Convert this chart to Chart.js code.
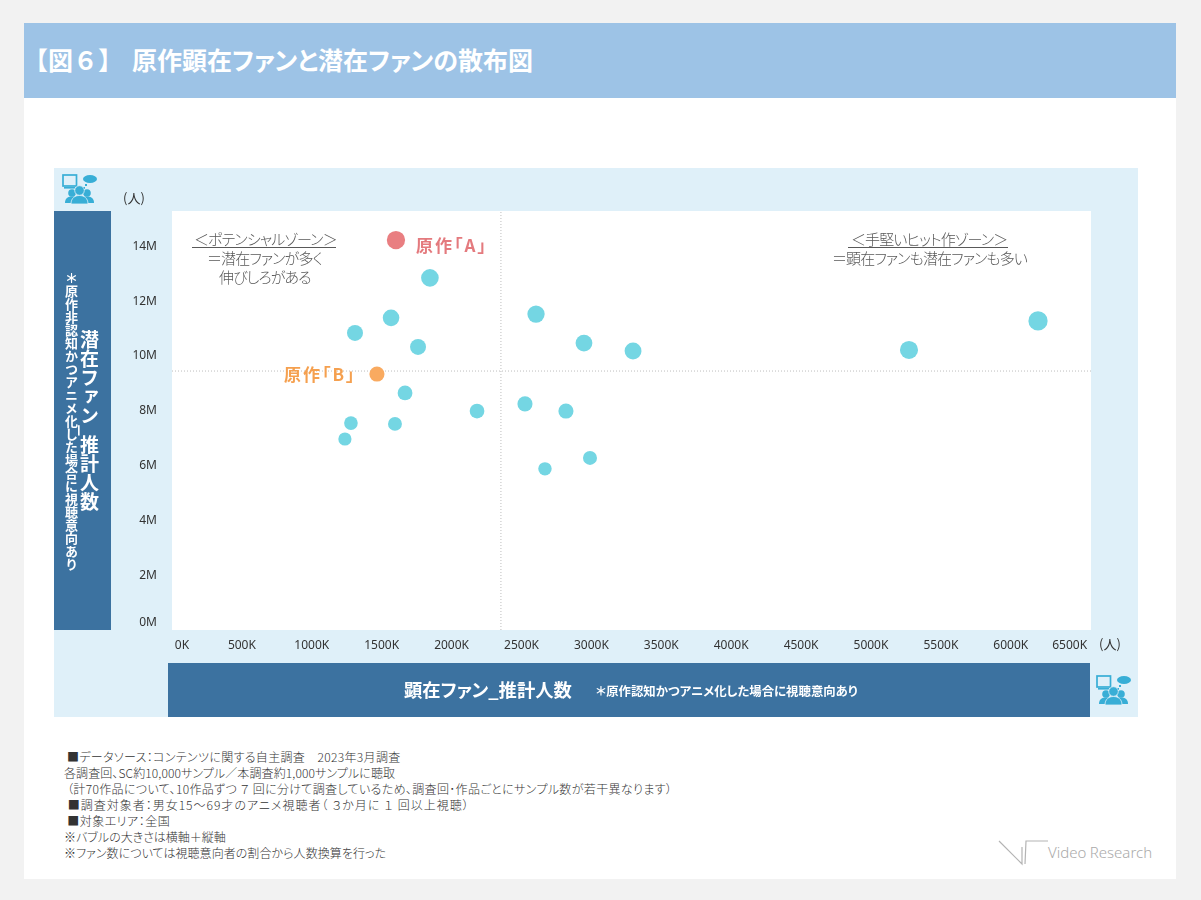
<!DOCTYPE html>
<html lang="ja"><head><meta charset="utf-8">
<style>
html,body{margin:0;padding:0;background:#f2f2f2;width:1201px;height:900px;overflow:hidden}
body{font-family:"Noto Sans CJK JP","Noto Sans",sans-serif;font-feature-settings:"palt"}
.a{position:absolute;white-space:pre;line-height:1}
#page{position:absolute;left:24px;top:23px;width:1152px;height:856px;background:#fff}
#title{position:absolute;left:24px;top:23px;width:1152px;height:75px;background:#9dc3e6}
.tt{top:47px;font-size:25px;font-weight:700;color:#fff}
#panel{position:absolute;left:54px;top:168px;width:1084px;height:549px;background:#dff0f9}
#ybar{position:absolute;left:54px;top:211px;width:57px;height:419px;background:#3c72a0}
#xbar{position:absolute;left:168px;top:663px;width:922px;height:54px;background:#3c72a0}
canvas{position:absolute;left:54px;top:168px}
.v{writing-mode:vertical-rl;color:#fff;font-weight:700;font-feature-settings:normal}
.zone{color:#595959;font-weight:300;font-size:15px;letter-spacing:-.9px}
.rule{position:absolute;height:1px;background:#595959}
#notes{left:64px;top:749px;font-size:12px;line-height:16px;color:#333;font-weight:300}
#notes span{display:block}
.unit{font-size:13px;color:#333;font-feature-settings:normal}
.work{font-size:17px;font-weight:700;letter-spacing:2px}
</style></head><body>
<div id="page"></div>
<div id="title"></div>
<div class="a tt" style="left:23px;font-feature-settings:normal">【図６】</div>
<div class="a tt" style="left:132px">原作顕在ファンと潜在ファンの散布図</div>
<div id="panel"></div>
<div id="ybar"></div>
<div id="xbar"></div>
<canvas id="c" width="1084" height="549"></canvas>

<div class="a v" style="left:80px;top:330px;font-size:19px">潜在ファン_推計人数</div>
<div class="a v" style="left:65px;top:272px;font-size:13px">＊原作非認知かつアニメ化した場合に視聴意向あり</div>
<div class="a" style="left:404px;top:680px;font-size:18.3px;font-weight:700;color:#fff">顕在ファン_推計人数</div>
<div class="a" style="left:596px;top:685px;font-size:12.4px;font-weight:700;color:#fff">＊原作認知かつアニメ化した場合に視聴意向あり</div>
<div class="a unit" style="left:123px;top:191px">(人)</div>
<div class="a unit" style="left:1099px;top:637px">(人)</div>

<div class="a zone" style="left:194px;top:231px">＜ポテンシャルゾーン＞</div>
<div class="rule" style="left:192px;top:247px;width:144px"></div>
<div class="a zone" style="left:207px;top:250px">＝潜在ファンが多く</div>
<div class="a zone" style="left:219px;top:269px">伸びしろがある</div>
<div class="a zone" style="left:851px;top:231px">＜手堅いヒット作ゾーン＞</div>
<div class="rule" style="left:848px;top:247px;width:160px"></div>
<div class="a zone" style="left:832px;top:250px">＝顕在ファンも潜在ファンも多い</div>

<div class="a work" style="left:416px;top:236px;color:#e47a7e">原作「A」</div>
<div class="a work" style="left:284px;top:365px;color:#f5a04f">原作「B」</div>

<div class="a" id="notes"><span style="letter-spacing:.33px"> ■データソース：コンテンツに関する自主調査　2023年3月調査</span><span style="letter-spacing:.1px">各調査回、SC約10,000サンプル／本調査約1,000サンプルに聴取</span><span style="letter-spacing:.35px"> （計70作品について、10作品ずつ ７ 回に分けて調査しているため、調査回･作品ごとにサンプル数が若干異なります）</span><span style="letter-spacing:1px"> ■調査対象者：男女15～69才のアニメ視聴者（ ３か月に １ 回以上視聴）</span><span style="letter-spacing:.5px"> ■対象エリア：全国</span><span>※バブルの大きさは横軸＋縦軸</span><span style="letter-spacing:.05px">※ファン数については視聴意向者の割合から人数換算を行った</span></div>

<svg width="0" height="0" style="position:absolute"><defs>
<g id="ico" fill="#38aed6">
  <rect x="1" y="1" width="13.5" height="11" fill="#dff0f9" stroke="#38aed6" stroke-width="1.7"/>
  <rect x="2" y="13" width="11" height="1.6"/>
  <ellipse cx="28" cy="5" rx="7" ry="4"/>
  <rect x="23" y="10" width="2" height="2"/><rect x="21" y="13" width="2" height="2"/>
  <circle cx="10" cy="19" r="3.8"/><path d="M3 29c0-5 3-6.500 7-6.500s7 1.500 7 6.500z"/>
  <circle cx="25" cy="19" r="3.800"/><path d="M18 29c0-5 3-6.500 7-6.500s7 1.500 7 6.500z"/>
  <circle cx="17.500" cy="16.500" r="4.800" stroke="#dff0f9" stroke-width=".8"/><path d="M9 30c0-6 4-8.500 8.500-8.500s8.500 2.500 8.500 8.500z" stroke="#dff0f9" stroke-width=".8"/>
</g></defs></svg>
<svg class="a" style="left:62px;top:174px" width="36" height="31"><use href="#ico"/></svg>
<svg class="a" style="left:1096px;top:675px" width="36" height="31"><use href="#ico"/></svg>

<svg class="a" style="left:995px;top:836px" width="56" height="32" fill="none" stroke="#b4b4b4" stroke-width="1.2">
  <path d="M4 5L27 28V11M30 28L31 5H53"/>
</svg>
<div class="a" style="left:1048px;top:845px;font-size:15px;color:#aaa;font-family:'Noto Sans';font-weight:300;word-spacing:-.5px">Video Research</div>

<script src="https://cdn.jsdelivr.net/npm/chart.js@4/dist/chart.umd.min.js"></script>
<script>
// Estimated fans (people): x = manifest fans, y = potential fans
const otherX = [1845000,2604000,1567000,1309000,1760000,2947000,3298000,5272000,6195000,1667000,2182000,2525000,2818000,1280000,1595000,1237000,2668000,2990000];
const otherY = [12850000,11530000,11390000,10840000,10330000,10470000,10180000,10220000,11280000,8650000,7990000,8250000,7990000,7550000,7520000,6970000,5880000,6280000];
const workAX = [1602000];
const workAY = [14230000];
const workBX = [1466000];
const workBY = [9340000];
const medianX = [2353000,2353000];
const medianY = [0,15290000];
const refLineX = [0,6574000];
const refLineY = [9450000,9450000];
const xTickValues = [0,500000,1000000,1500000,2000000,2500000,3000000,3500000,4000000,4500000,5000000,5500000,6000000,6500000];
const xTickLabels = ["0K","500K","1000K","1500K","2000K","2500K","3000K","3500K","4000K","4500K","5000K","5500K","6000K","6500K"];
const yTickValues = [0,2000000,4000000,6000000,8000000,10000000,12000000,14000000];
const yTickLabels = ["0M","2M","4M","6M","8M","10M","12M","14M"];
const xMax = 6574000, yMax = 15290000;

const zip = (xs, ys) => xs.map((x, i) => ({x, y: ys[i]}));
// Note in the source: bubble size = horizontal + vertical value
const bubbleRadius = ctx => {
  const p = ctx.raw;
  return p ? 2.3 * Math.sqrt((p.x + p.y) / 1e6) : 0;
};
const bubble = (label, xs, ys, color) => ({
  label, data: zip(xs, ys), backgroundColor: color, borderWidth: 0,
  pointRadius: bubbleRadius, pointHoverRadius: bubbleRadius, showLine: false
});
const ref = (label, xs, ys) => ({
  label, data: zip(xs, ys), showLine: true, pointRadius: 0, borderColor: '#bdbdbd',
  borderWidth: 1, borderDash: [1, 2], fill: false, order: 5
});
const shiftEdgeLabels = {
  id: 'shiftEdgeLabels',
  beforeDraw(chart) {
    const {left, top, width, height} = chart.chartArea;
    const c = chart.ctx;
    c.save(); c.fillStyle = '#fff'; c.fillRect(left, top, width, height); c.restore();
    const xi = chart.scales.x.getLabelItems();
    if (!xi.shifted) {
      xi[0].options.translation[0] += 10;
      xi[xi.length - 1].options.translation[0] -= 11;
      xi.shifted = true;
    }
    const yi = chart.scales.y.getLabelItems();
    if (!yi.shifted) {
      yi[0].options.translation[1] -= 7;
      yi.shifted = true;
    }
  }
};
new Chart(document.getElementById('c'), {
  type: 'scatter',
  data: { datasets: [
    ref('縦基準線', medianX, medianY),
    ref('横基準線', refLineX, refLineY),
    bubble('その他の原作', otherX, otherY, '#74d6e3'),
    bubble('原作「A」', workAX, workAY, '#e97e81'),
    bubble('原作「B」', workBX, workBY, '#f9aa60')
  ]},
  plugins: [shiftEdgeLabels],
  options: {
    responsive: false, animation: false, devicePixelRatio: 1,
    layout: { padding: {left: 0, right: 47, top: 43, bottom: 0} },
    plugins: { legend: {display: false}, tooltip: {enabled: false} },
    events: [],
    scales: {
      x: {
        type: 'linear', min: 0, max: xMax,
        grid: {display: false}, border: {display: false},
        afterBuildTicks: s => { s.ticks = xTickValues.map(value => ({value})); },
        afterFit: s => { s.height = 87; },
        ticks: { autoSkip: false, maxRotation: 0, padding: 0, color: '#333',
          font: {family: '"Noto Sans"', size: 12},
          callback: v => xTickLabels[xTickValues.indexOf(v)] }
      },
      y: {
        type: 'linear', min: 0, max: yMax,
        grid: {display: false}, border: {display: false},
        afterBuildTicks: s => { s.ticks = yTickValues.map(value => ({value})); },
        afterFit: s => { s.width = 118; },
        ticks: { autoSkip: false, padding: 7, color: '#333',
          font: {family: '"Noto Sans"', size: 12},
          callback: v => yTickLabels[yTickValues.indexOf(v)] }
      }
    }
  }
});
</script>
</body></html>
